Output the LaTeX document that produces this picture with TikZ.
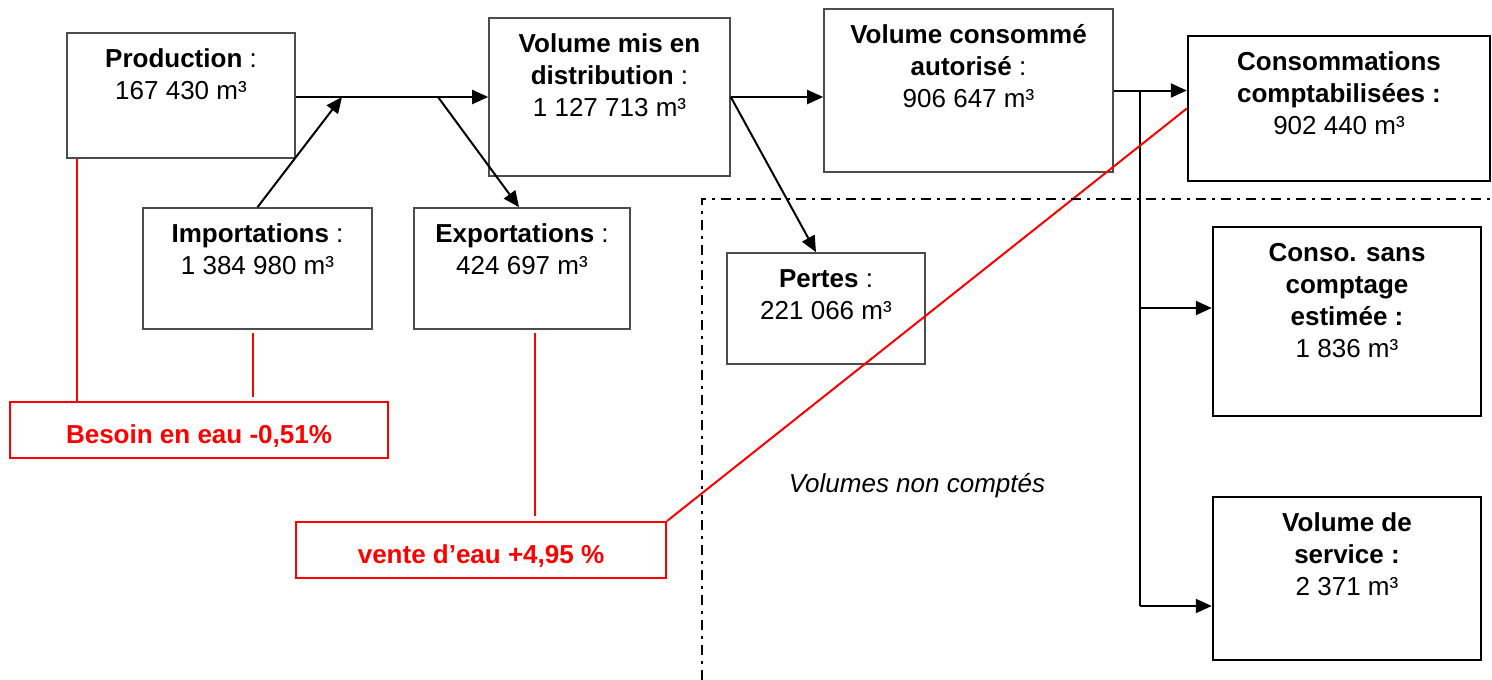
\documentclass[tikz,border=0pt]{standalone}
\usepackage{fontspec}
\setmainfont{Liberation Sans}
\usetikzlibrary{arrows.meta}

\begin{document}
\begin{tikzpicture}[x=1pt,y=-1pt,
    box/.style={draw=black!70,line width=1.6pt,inner sep=0pt},
    bigbox/.style={draw=black,line width=2.4pt,inner sep=0pt},
    txt/.style={anchor=north,align=center,inner sep=0pt,yshift=-12.6pt,
                font=\fontsize{26pt}{32pt}\selectfont},
    arr/.style={line width=2pt,-{Triangle[length=16pt,width=14pt]}},
    redbox/.style={draw=red,line width=2pt,inner sep=0pt},
    redtxt/.style={anchor=base,yshift=-13pt,inner sep=0pt,text=red,
                font=\fontsize{26pt}{32pt}\selectfont\bfseries},
    redline/.style={red,line width=2pt},
    zone/.style={line width=2.2pt,dash pattern=on 10pt off 6pt on 3pt off 6pt}
  ]
  \useasboundingbox (0,0) rectangle (1492,680);

  % boxes
  \node[box,minimum width=228,minimum height=125] (prod) at (181,95.5) {};
  \node[box,minimum width=229,minimum height=121] (imp) at (257.5,268.5) {};
  \node[box,minimum width=216,minimum height=121] (exp) at (522,268.5) {};
  \node[box,minimum width=241,minimum height=158] (dist) at (609.5,97) {};
  \node[box,minimum width=289,minimum height=163] (cons) at (968.5,90.5) {};
  \node[box,minimum width=198,minimum height=111] (pertes) at (826,308.5) {};
  \node[bigbox,minimum width=302,minimum height=145] (compt) at (1339,108.5) {};
  \node[bigbox,minimum width=268,minimum height=189] (sans) at (1347,321.5) {};
  \node[bigbox,minimum width=268,minimum height=163] (serv) at (1347,578.5) {};
  \node[redbox,minimum width=378,minimum height=56] (besoin) at (199,430) {};
  \node[redbox,minimum width=370,minimum height=56] (vente) at (481,550) {};

  % texts
  \node[txt] (prod-t) at (prod.north) {\strut\textbf{Production} :\\167 430 m³};
  \node[txt] (imp-t) at (imp.north) {\strut\textbf{Importations} :\\1 384 980 m³};
  \node[txt] (exp-t) at (exp.north) {\strut\textbf{Exportations} :\\424 697 m³};
  \node[txt] (dist-t) at (dist.north) {\strut\textbf{Volume mis en}\\\textbf{distribution} :\\1 127 713 m³};
  \node[txt] (cons-t) at (cons.north) {\strut\textbf{Volume consommé}\\\textbf{autorisé} :\\906 647 m³};
  \node[txt] (pertes-t) at (pertes.north) {\strut\textbf{Pertes} :\\221 066 m³};
  \node[txt] (compt-t) at (compt.north) {\strut\textbf{Consommations}\\\textbf{comptabilisées :}\\902 440 m³};
  \node[txt] (sans-t) at (sans.north) {\strut\textbf{Conso. sans}\\\textbf{comptage}\\\textbf{estimée :}\\1 836 m³};
  \node[txt] (serv-t) at (serv.north) {\strut\textbf{Volume de}\\\textbf{service :}\\2 371 m³};
  \node[redtxt] (besoin-t) at (besoin.center) {Besoin en eau -0,51\%};
  \node[redtxt] (vente-t) at (vente.center) {vente d’eau +4,95 \%};
  \node[anchor=base,inner sep=0pt,font=\fontsize{26pt}{32pt}\selectfont\itshape] (nc) at (917,492) {Volumes non comptés};

  % flows
  \coordinate (jin) at (342,97);
  \coordinate (jout) at (438,97);
  \coordinate (fork) at (1140,91);
  \coordinate (sansin) at (1140,308);
  \coordinate (forkend) at (1140,606);

  \draw[arr] (prod.east |- dist) -- (dist.west);
  \draw[arr] (imp.north) -- (jin);
  \draw[arr] (jout) -- ([xshift=-3pt]exp.north);
  \draw[arr] (dist.east) -- (dist.east -| cons.west);
  \draw[arr] (dist.east) -- ([xshift=-10pt]pertes.north);
  \draw[arr] (cons.east) -- (cons.east -| compt.west);
  \draw[line width=2pt] (fork) -- (forkend);
  \draw[arr] (sansin) -- (sansin -| sans.west);
  \draw[arr] (forkend) -- (forkend -| serv.west);

  % red links
  \draw[redline] ([xshift=11pt]prod.south west) -- ([xshift=11pt]prod.south west |- besoin.north);
  \draw[redline] ([xshift=-5pt,yshift=-3pt]imp.south) -- ([xshift=-5pt,yshift=4pt]imp.south |- besoin.north);
  \draw[redline] ([xshift=13pt,yshift=-3pt]exp.south) -- ([xshift=13pt,yshift=5pt]exp.south |- vente.north);
  \draw[redline] (vente.north east) -- (compt.west);

  % zone non comptee
  \draw[zone] (702,680) -- (702,199) -- (1492,199);
\end{tikzpicture}
\end{document}
